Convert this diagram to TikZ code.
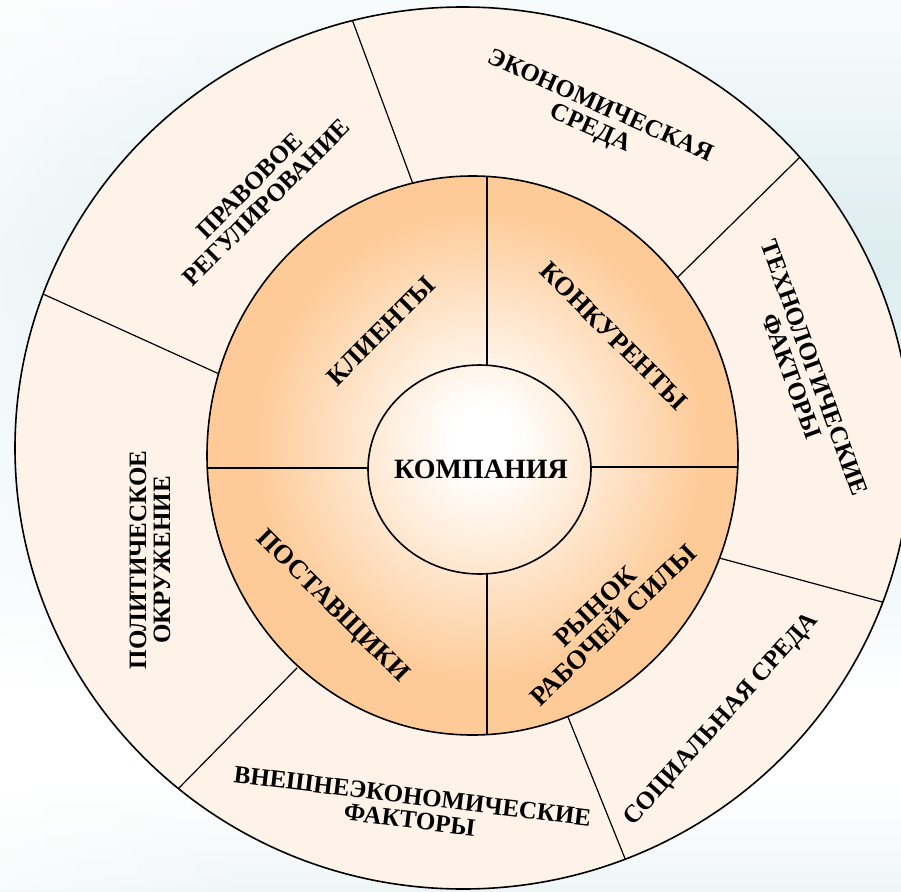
\documentclass[tikz,border=0pt]{standalone}
\usepackage{fontspec}
\setmainfont{Liberation Serif}
\usetikzlibrary{fadings}
\definecolor{bgteal}{RGB}{221,237,240}
\definecolor{bglight}{RGB}{239,246,247}
\definecolor{ringpeach}{RGB}{253,243,233}
\definecolor{ringorange}{RGB}{254,203,152}
\pgfdeclareverticalshading{bgband}{100bp}{color(0bp)=(bglight); color(25bp)=(bglight);
  color(31bp)=(white); color(36bp)=(white); color(47bp)=(bgteal!70!white);
  color(61bp)=(bgteal); color(72bp)=(bgteal!35!white); color(75bp)=(bgteal!20!white);
  color(100bp)=(bgteal!20!white)}
\pgfdeclareradialshading{coreglow}{\pgfpoint{1bp}{1.5bp}}{color(0bp)=(white);
  color(3bp)=(white); color(21bp)=(ringorange); color(50bp)=(ringorange)}

\begin{document}
\begin{tikzpicture}[
    x=1pt, y=-1pt,
    rimline/.style  = {line width=1.6pt},
    spoke/.style    = {line width=1.2pt},
    outerlbl/.style = {font=\fontsize{25}{24}\selectfont\bfseries, align=center, inner sep=0pt},
    innerlbl/.style = {font=\fontsize{26.5}{26}\selectfont\bfseries, align=center, inner sep=0pt},
    corelbl/.style  = {font=\fontsize{28}{28}\selectfont\bfseries, inner sep=0pt}
]
\useasboundingbox (0,0) rectangle (901,891);

% --- Background ---
\shade[shading=bgband] (0,0) rectangle (901,891);
\fill[white, path fading=east, fill opacity=0.6] (0,0) rectangle (260,891);

% --- Outer ring with its six sectors ---
\fill[ringpeach] (463,448) ellipse [x radius=448, y radius=441];
\begin{scope}
  \clip (463,448) ellipse [x radius=448, y radius=441];
  \foreach \ix/\iy/\ox/\oy in
     {413/184/353/22, 217/373/43/294, 293/672/176/791,
      568/717/626/861, 723/559/886/603, 680/275/797/160}
     \draw[spoke, shorten <=-6pt, shorten >=-6pt] (\ix,\iy) -- (\ox,\oy);
\end{scope}
\draw[rimline] (463,448) ellipse [x radius=448, y radius=441];

% --- Inner ring (four quadrants) ---
\shadedraw[shading=coreglow, rimline] (472.5,455.5) ellipse [x radius=265.5, y radius=279.5];
\draw[spoke] (487,176.4) -- (487,365.2);
\draw[spoke] (487,573.8) -- (487,734.6);
\draw[spoke] (207.3,468) -- (368,468);
\draw[spoke] (591,467) -- (737.5,467);

% --- Core ---
\draw[rimline] (479.5,469.5) ellipse [x radius=111.5, y radius=104.5];
\node[corelbl] (company) at (481,469) {КОМПАНИЯ};

% --- Inner labels ---
\node[innerlbl, rotate=45]  (clients)   at (381,331) {КЛИЕНТЫ};
\node[innerlbl, rotate=-45] (rivals)    at (614,336) {КОНКУРЕНТЫ};
\node[innerlbl, rotate=-45] (suppliers) at (332,607) {ПОСТАВЩИКИ};
\node[innerlbl, rotate=44]  (labour)    at (604,616) {РЫНОК\\РАБОЧЕЙ СИЛЫ};

% --- Outer labels ---
\node[outerlbl, rotate=45]  (legal)    at (258,194) {ПРАВОВОЕ\\РЕГУЛИРОВАНИЕ};
\node[outerlbl, rotate=-24] (economy)  at (595,118) {ЭКОНОМИЧЕСКАЯ\\СРЕДА};
\node[outerlbl, rotate=-70] (techno)   at (803,372) {ТЕХНОЛОГИЧЕСКИЕ\\ФАКТОРЫ};
\node[outerlbl, rotate=90]  (politics) at (150,560) {ПОЛИТИЧЕСКОЕ\\ОКРУЖЕНИЕ};
\node[outerlbl, rotate=-7]  (foreign)  at (411,808) {ВНЕШНЕЭКОНОМИЧЕСКИЕ\\ФАКТОРЫ};
\node[outerlbl, rotate=48]  (social)   at (722,720) {СОЦИАЛЬНАЯ СРЕДА};

\end{tikzpicture}
\end{document}
